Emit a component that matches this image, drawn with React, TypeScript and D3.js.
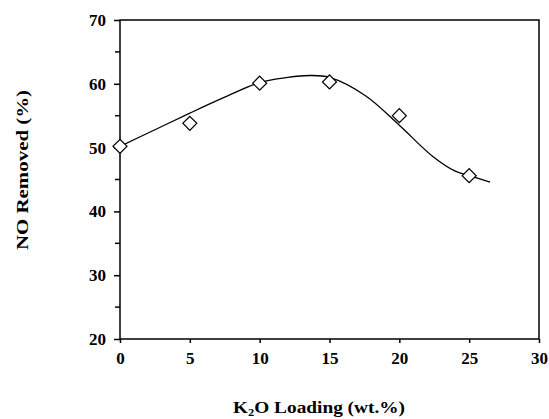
import React, { useEffect, useRef } from 'react';
import * as d3 from 'd3';

// measured points
const loading = [0, 5, 10, 15, 20, 25];
const removed = [50.2, 53.8, 60.1, 60.3, 55.0, 45.6];

// smooth fitted curve
const fitX = [0, 2.5, 5, 7.5, 10, 12, 13.6, 15, 17.6, 20, 22.4, 24, 25, 26.5];
const fitY = [50.2, 52.8, 55.4, 57.9, 60.2, 61.0, 61.3, 61.0, 58.1, 53.5, 48.6, 46.3, 45.6, 44.6];

const xTicks = [0, 5, 10, 15, 20, 25, 30];
const yTicks = [20, 30, 40, 50, 60, 70];
const yMinor = [25, 35, 45, 55, 65];

export default function App() {
  const ref = useRef<SVGSVGElement>(null);
  const width = 549,
    height = 419;
  const margin = { top: 20, right: 10, bottom: 80, left: 120 };

  useEffect(() => {
    const svg = d3.select(ref.current);
    svg.selectAll('*').remove();

    const x = d3
      .scaleLinear()
      .domain([0, 30])
      .range([margin.left, width - margin.right]);
    const y = d3
      .scaleLinear()
      .domain([20, 70])
      .range([height - margin.bottom, margin.top]);

    const font = "'Liberation Serif', 'Times New Roman', serif";

    // frame
    svg
      .append('rect')
      .attr('x', x(0))
      .attr('y', y(70))
      .attr('width', x(30) - x(0))
      .attr('height', y(20) - y(70))
      .attr('fill', 'none')
      .attr('stroke', '#000')
      .attr('stroke-width', 1.5);

    // y axis
    const yAxis = svg.append('g').attr('transform', `translate(${x(0)},0)`);
    yAxis
      .call(d3.axisLeft(y).tickValues(yTicks).tickSize(6).tickPadding(8))
      .call((g) => g.select('.domain').remove());
    yAxis.selectAll('.tick line').attr('stroke-width', 1.5);
    yAxis
      .selectAll('.tick text')
      .attr('font-family', font)
      .attr('font-weight', 'bold')
      .attr('font-size', 17)
      .attr('fill', '#000');
    yAxis
      .selectAll('.minor')
      .data(yMinor)
      .join('line')
      .attr('x1', -5)
      .attr('x2', 0)
      .attr('y1', (d) => y(d))
      .attr('y2', (d) => y(d))
      .attr('stroke', '#000')
      .attr('stroke-width', 1.5);

    // x axis
    const xAxis = svg.append('g').attr('transform', `translate(0,${y(20)})`);
    xAxis
      .call(d3.axisBottom(x).tickValues(xTicks).tickSize(4).tickPadding(9))
      .call((g) => g.select('.domain').remove());
    xAxis.selectAll('.tick line').attr('stroke-width', 1.5);
    xAxis
      .selectAll('.tick text')
      .attr('font-family', font)
      .attr('font-weight', 'bold')
      .attr('font-size', 17)
      .attr('fill', '#000');

    // fitted curve
    const fit = fitX.map((v, i) => [v, fitY[i]] as [number, number]);
    const line = d3
      .line<[number, number]>()
      .curve(d3.curveCatmullRom.alpha(0.5))
      .x((d) => x(d[0]))
      .y((d) => y(d[1]));
    svg
      .append('path')
      .datum(fit)
      .attr('fill', 'none')
      .attr('stroke', '#000')
      .attr('stroke-width', 1.3)
      .attr('d', line);

    // diamonds
    const sym = d3.symbol().type(d3.symbolSquare).size(98);
    svg
      .selectAll('.pt')
      .data(loading)
      .join('path')
      .attr('d', sym)
      .attr('transform', (d, i) => `translate(${x(d)},${y(removed[i])}) rotate(45)`)
      .attr('fill', '#fff')
      .attr('stroke', '#000')
      .attr('stroke-width', 1.2);

    // titles
    const xt = svg
      .append('text')
      .attr('x', 233)
      .attr('y', 413)
      .attr('text-anchor', 'start')
      .attr('font-family', font)
      .attr('font-weight', 'bold')
      .attr('font-size', 17)
      .attr('textLength', 172)
      .attr('lengthAdjust', 'spacingAndGlyphs');
    xt.append('tspan').text('K');
    xt.append('tspan').attr('font-size', 11).attr('dy', 3).text('2');
    xt.append('tspan').attr('dy', -3).text('O Loading (wt.%)');

    svg
      .append('text')
      .attr('transform', `translate(28,170) rotate(-90)`)
      .attr('text-anchor', 'middle')
      .attr('font-family', font)
      .attr('font-weight', 'bold')
      .attr('font-size', 17)
      .attr('textLength', 160)
      .attr('lengthAdjust', 'spacingAndGlyphs')
      .text('NO Removed (%)');
  }, []);

  return (
    <svg
      ref={ref}
      width={width}
      height={height}
      style={{ position: 'absolute', left: 0, top: 0, background: '#fff' }}
    />
  );
}
